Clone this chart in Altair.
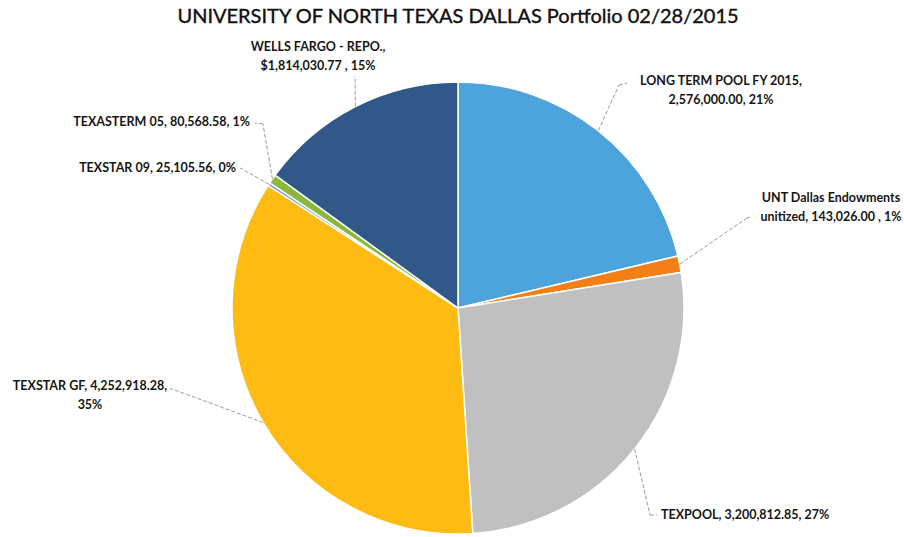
import altair as alt
import pandas as pd

# ---- data ----
categories = ["LONG TERM POOL FY 2015", "UNT Dallas Endowments unitized", "TEXPOOL",
              "TEXSTAR GF", "TEXSTAR 09", "TEXASTERM 05", "WELLS FARGO - REPO."]
values = [2576000.00, 143026.00, 3200812.85, 4252918.28, 25105.56, 80568.58, 1814030.77]
labels = [
    "LONG TERM POOL FY 2015,\n2,576,000.00, 21%",
    "UNT Dallas Endowments\nunitized,  143,026.00 , 1%",
    "TEXPOOL, 3,200,812.85, 27%",
    "TEXSTAR GF, 4,252,918.28,\n35%",
    "TEXSTAR 09, 25,105.56, 0%",
    "TEXASTERM 05, 80,568.58, 1%",
    "WELLS FARGO - REPO.,\n$1,814,030.77 , 15%",
]
title_text = "UNIVERSITY OF NORTH TEXAS DALLAS Portfolio 02/28/2015"

# ---- style / layout ----
colors = ["#4da3dc", "#f57f17", "#c0c0c0", "#fdbb14", "#5b86c9", "#8bb83a", "#30598a"]
W, H = 904, 537
CX, CY, R = 458, 308, 226
# label anchor (x, y, align, baseline) and leader elbow / end points
label_layout = [
    (721, 75, "center", "top"),
    (831, 192, "center", "top"),
    (661, 515, "left", "middle"),
    (90, 380, "center", "top"),
    (236, 168, "right", "middle"),
    (250, 122, "right", "middle"),
    (318, 41, "center", "top"),
]
leader_layout = [
    (619, 85, 627, 83),
    (747, 218, 750, 217),
    (650, 515, 657, 515),
    (172, 389, 170, 389),
    (242, 169, 240, 168),
    (263, 124, 255, 123),
    (355, 76, 355, 76),
]

df = pd.DataFrame({
    "category": categories,
    "value": values,
    "label": labels,
    "order": list(range(len(categories))),
    "tx": [l[0] for l in label_layout],
    "ty": [l[1] for l in label_layout],
    "ex1": [l[0] for l in leader_layout],
    "ey1": [l[1] for l in leader_layout],
    "ex2": [l[2] for l in leader_layout],
    "ey2": [l[3] for l in leader_layout],
})

xs = alt.Scale(domain=[0, W], nice=False, zero=False)
ys = alt.Scale(domain=[0, H], nice=False, zero=False, reverse=True)

base = alt.Chart(df)

pie = base.mark_arc(outerRadius=R, stroke="white", strokeWidth=1.5).encode(
    theta=alt.Theta("value:Q", stack=True),
    color=alt.Color("category:N", scale=alt.Scale(domain=categories, range=colors), legend=None),
    order=alt.Order("order:Q"),
    x=alt.value(CX),
    y=alt.value(CY),
)

leader_base = base.transform_joinaggregate(
    total="sum(value)"
).transform_window(
    cum="sum(value)", sort=[alt.SortField("order", order="ascending")], frame=[None, 0]
).transform_calculate(
    mid="(datum.cum - datum.value/2) / datum.total * 2 * PI",
).transform_calculate(
    sx=f"{CX} + {R} * sin(datum.mid)",
    sy=f"{CY} - {R} * cos(datum.mid)",
)

lead1 = leader_base.mark_rule(color="#9a9a9a", strokeWidth=1, strokeDash=[4, 2]).encode(
    x=alt.X("sx:Q", scale=xs, axis=None),
    y=alt.Y("sy:Q", scale=ys, axis=None),
    x2="ex1:Q",
    y2="ey1:Q",
)
lead2 = base.mark_rule(color="#9a9a9a", strokeWidth=1, strokeDash=[4, 2]).encode(
    x=alt.X("ex1:Q", scale=xs, axis=None),
    y=alt.Y("ey1:Q", scale=ys, axis=None),
    x2="ex2:Q",
    y2="ey2:Q",
)

text_layers = []
for cat, (tx, ty, al, bl) in zip(categories, label_layout):
    text_layers.append(
        base.transform_filter(alt.datum.category == cat).mark_text(
            font="Lato", fontSize=12.5, fontWeight="bold", color="#161616",
            align=al, baseline=bl, lineBreak="\n", lineHeight=18.5,
        ).encode(
            x=alt.X("tx:Q", scale=xs, axis=None),
            y=alt.Y("ty:Q", scale=ys, axis=None),
            text="label:N",
        )
    )

title = alt.Chart(pd.DataFrame({"t": [title_text]})).mark_text(
    font="Lato", fontSize=20, color="#111111", align="center", baseline="middle",
    stroke="#111111", strokeWidth=0.4,
).encode(text="t:N", x=alt.value(458), y=alt.value(17))

chart = alt.layer(pie, lead1, lead2, *text_layers, title).properties(
    width=W, height=H, padding=0, autosize=alt.AutoSizeParams(type="none"),
    background="white",
).configure_view(stroke=None)

chart.save("out.html", embed_options={"renderer": "svg", "actions": False})
